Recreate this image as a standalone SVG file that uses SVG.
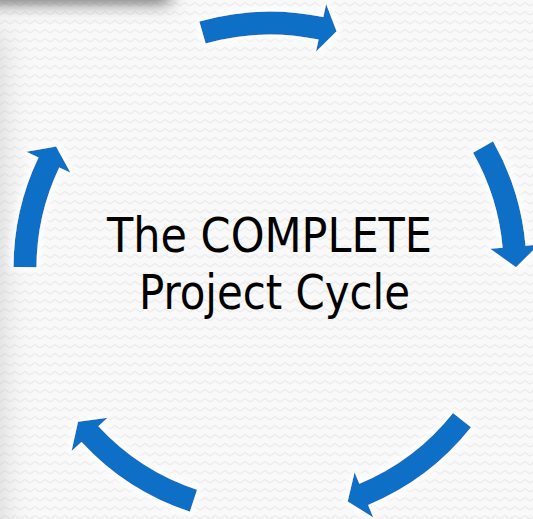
<svg xmlns="http://www.w3.org/2000/svg" width="533" height="519" viewBox="0 0 533 519">
  <style>
    .arrow { fill: #0f6fc6; }
    .label { font-family: "DejaVu Sans Condensed", "DejaVu Sans", sans-serif; font-stretch: condensed; font-size: 48px; fill: #000000; }
  </style>
  <defs>
    <pattern id="zz" width="10" height="9" patternUnits="userSpaceOnUse">
      <rect width="10" height="9" fill="#f9f9f9"/>
      <polyline points="0,6 5,2.5 10,6" fill="none" stroke="#ececec" stroke-width="1.4"/>
    </pattern>
    <filter id="blurTop" x="-50%" y="-100%" width="200%" height="300%">
      <feGaussianBlur stdDeviation="9"/>
    </filter>
    <filter id="blurLeft" x="-200%" y="-20%" width="500%" height="140%">
      <feGaussianBlur stdDeviation="16"/>
    </filter>
    <filter id="glow" x="-10%" y="-10%" width="120%" height="120%">
      <feMorphology in="SourceAlpha" operator="dilate" radius="3" result="d"/>
      <feGaussianBlur in="d" stdDeviation="3" result="b"/>
      <feFlood flood-color="#ffffff"/>
      <feComposite in2="b" operator="in" result="g"/>
      <feMerge><feMergeNode in="g"/><feMergeNode in="SourceGraphic"/></feMerge>
    </filter>
  </defs>

  <!-- background -->
  <rect width="533" height="519" fill="url(#zz)"/>
  <rect x="-40" y="30" width="42" height="560" fill="#b8b8b8" opacity="0.55" filter="url(#blurLeft)"/>
  <rect x="-30" y="-34" width="200" height="36" fill="#5a5a5a" filter="url(#blurTop)"/>

  <!-- cycle arrows -->
  <g id="connectors" filter="url(#glow)">
    <path id="arrow-top" class="arrow" d="M199.30,21.44 A256.5,256.5 0 0 1 323.33,17.10 L326.14,3.90 L336.57,31.18 L315.95,51.83 L318.55,39.60 A233.5,233.5 0 0 0 205.64,43.55 Z"/>
    <path id="arrow-right" class="arrow" d="M493.02,141.30 A256.5,256.5 0 0 1 525.52,245.64 L538.97,244.47 L516.00,267.14 L490.16,248.74 L502.61,247.65 A233.5,233.5 0 0 0 473.03,152.67 Z"/>
    <path id="arrow-bottom-right" class="arrow" d="M471.02,427.33 A256.5,256.5 0 0 1 368.16,504.98 L373.32,517.45 L347.65,501.42 L354.57,472.18 L359.36,483.73 A233.5,233.5 0 0 0 452.99,413.04 Z"/>
    <path id="arrow-bottom-left" class="arrow" d="M189.89,511.67 A256.5,256.5 0 0 1 81.50,441.95 L71.57,451.10 L78.01,421.81 L107.58,417.87 L98.40,426.35 A233.5,233.5 0 0 0 197.07,489.82 Z"/>
    <path id="arrow-left" class="arrow" d="M13.50,267.10 A256.5,256.5 0 0 1 38.49,157.57 L26.30,151.76 L56.11,146.49 L70.53,172.86 L59.25,167.48 A233.5,233.5 0 0 0 36.50,267.19 Z"/>
  </g>

  <!-- centre title -->
  <g id="title">
    <text class="label" x="107" y="252" textLength="325" lengthAdjust="spacingAndGlyphs">The COMPLETE</text>
    <text class="label" x="139" y="309" textLength="271" lengthAdjust="spacingAndGlyphs">Project Cycle</text>
  </g>
</svg>
